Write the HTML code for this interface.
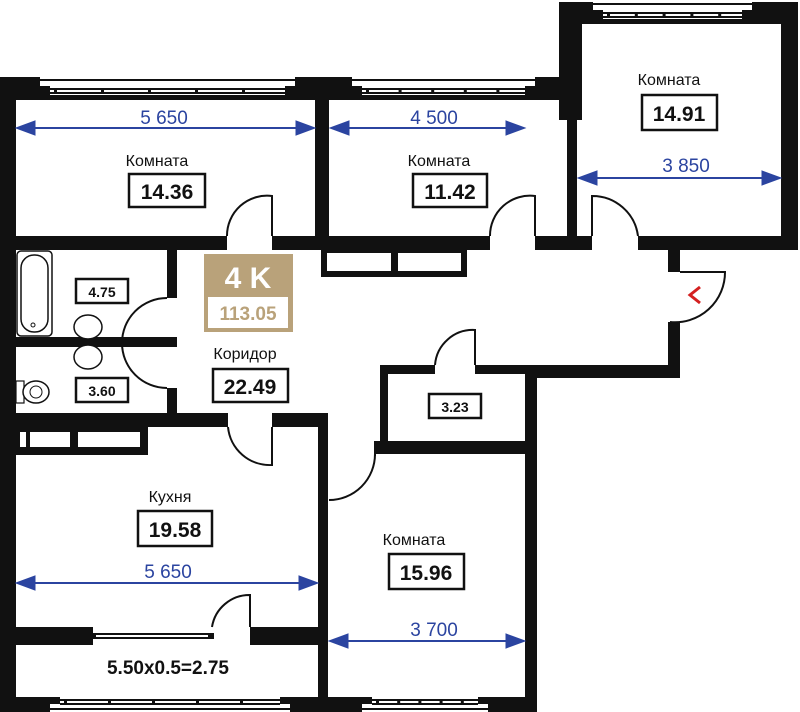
<!DOCTYPE html>
<html><head><meta charset="utf-8"><style>
html,body{margin:0;padding:0;background:#fff;width:800px;height:712px;overflow:hidden}
svg{display:block}
.lbl{font-family:"Liberation Sans",sans-serif;font-size:16px;fill:#111;text-anchor:middle}
.num{font-family:"Liberation Sans",sans-serif;font-size:21px;font-weight:bold;fill:#111;text-anchor:middle}
.sm{font-family:"Liberation Sans",sans-serif;font-size:14px;font-weight:bold;fill:#111;text-anchor:middle}
.dim{font-family:"Liberation Sans",sans-serif;font-size:19px;fill:#2b44a0;text-anchor:middle}
.box{fill:#fff;stroke:#111;stroke-width:2.5}
.arc{fill:#fff;stroke:#111;stroke-width:2}
</style></head><body>
<svg id="s" width="800" height="712" viewBox="0 0 800 712" xmlns="http://www.w3.org/2000/svg">
<g fill="#111">
<rect x="0" y="77" width="16" height="635"/>
<rect x="0" y="77" width="330" height="23"/>
<rect x="315" y="77" width="265" height="23"/>
<rect x="315" y="77" width="14" height="173"/>
<rect x="559" y="2" width="23" height="118"/>
<rect x="567" y="100" width="10" height="150"/>
<rect x="559" y="2" width="239" height="22"/>
<rect x="781" y="2" width="17" height="248"/>
<rect x="15" y="236" width="212" height="14"/>
<rect x="272" y="236" width="218" height="14"/>
<rect x="535" y="236" width="57" height="14"/>
<rect x="638" y="236" width="160" height="14"/>
<rect x="668" y="250" width="12" height="22"/>
<rect x="668" y="322" width="12" height="56"/>
<rect x="525" y="365" width="155" height="13"/>
<rect x="380" y="365" width="55" height="9"/>
<rect x="475" y="365" width="55" height="9"/>
<rect x="380" y="365" width="8" height="80"/>
<rect x="374" y="441" width="163" height="13"/>
<rect x="525" y="365" width="12" height="347"/>
<rect x="167" y="250" width="10" height="48"/>
<rect x="167" y="388" width="10" height="30"/>
<rect x="15" y="413" width="213" height="14"/>
<rect x="272" y="413" width="56" height="14"/>
<rect x="318" y="413" width="10" height="299"/>
<rect x="15" y="427" width="133" height="28"/>
<rect x="15" y="627" width="78" height="18"/>
<rect x="250" y="627" width="68" height="18"/>
<rect x="88" y="633" width="126" height="6"/>
<rect x="0" y="697" width="330" height="15"/>
<rect x="318" y="697" width="219" height="15"/>
</g>
<g fill="#fff">
<rect x="20" y="432" width="6" height="15"/>
<rect x="30" y="432" width="40" height="15"/>
<rect x="78" y="432" width="62" height="15"/>
<rect x="96" y="635" width="112" height="2"/>
</g>
<rect x="324" y="250" width="140" height="24" fill="#fff" stroke="#111" stroke-width="6"/>
<rect x="391" y="250" width="7" height="25" fill="#111"/>
<g id="wins"></g>
<path class="arc" d="M272 236 L272 196 A40 40 0 0 0 227 236" />
<path class="arc" d="M535 236 L535 196 A40 40 0 0 0 490 236" />
<path class="arc" d="M592 236 L592 196 A46 46 0 0 1 638 236" />
<path class="arc" d="M680 272 L725 272 A50 50 0 0 1 670 322" fill="none"/>
<path class="arc" d="M475 365 L475 330 A38 38 0 0 0 435 365" />
<path class="arc" d="M167 298 A45 45 0 0 0 167 388" />
<rect x="15" y="337" width="162" height="10" fill="#111"/>
<path class="arc" d="M272 427 L272 465 A42 42 0 0 1 228 427" />
<path class="arc" d="M375 454 A46 46 0 0 1 329 500" fill="none"/>
<line x1="375" y1="441" x2="375" y2="456" stroke="#111" stroke-width="2"/>
<path class="arc" d="M250 627 L250 595 A38 38 0 0 0 212 627" />
<path d="M700 287 L690 295 L700 303" fill="none" stroke="#d42020" stroke-width="3"/>
<rect x="17" y="251" width="35" height="85" rx="4" fill="#fff" stroke="#111" stroke-width="1.5"/>
<rect x="21" y="255" width="27" height="77" rx="13" fill="#fff" stroke="#111" stroke-width="1.5"/>
<circle cx="33" cy="325" r="2" fill="none" stroke="#111"/>
<ellipse cx="88" cy="327" rx="14" ry="12" fill="#fff" stroke="#111" stroke-width="1.5"/>
<ellipse cx="88" cy="357" rx="14" ry="12" fill="#fff" stroke="#111" stroke-width="1.5"/>
<rect x="16" y="381" width="8" height="22" fill="#fff" stroke="#111" stroke-width="1.2"/>
<ellipse cx="36" cy="392" rx="13" ry="11" fill="#fff" stroke="#111" stroke-width="1.5"/>
<circle cx="36" cy="392" r="6" fill="none" stroke="#111"/>
<g fill="#2b44a0" stroke="#2b44a0">
<line x1="20" y1="128" x2="310" y2="128" stroke-width="2"/>
<polygon points="16,128 35,121 35,135"/><polygon points="315,128 296,121 296,135"/>
<line x1="334" y1="128" x2="520" y2="128" stroke-width="2"/>
<polygon points="330,128 349,121 349,135"/><polygon points="525,128 506,121 506,135"/>
<line x1="582" y1="178" x2="776" y2="178" stroke-width="2"/>
<polygon points="578,178 597,171 597,185"/><polygon points="781,178 762,171 762,185"/>
<line x1="20" y1="583" x2="313" y2="583" stroke-width="2"/>
<polygon points="16,583 35,576 35,590"/><polygon points="318,583 299,576 299,590"/>
<line x1="333" y1="641" x2="520" y2="641" stroke-width="2"/>
<polygon points="329,641 348,634 348,648"/><polygon points="525,641 506,634 506,648"/>
</g>
<text class="dim" x="164" y="124" stroke="none">5 650</text>
<text class="dim" x="434" y="124" stroke="none">4 500</text>
<text class="dim" x="686" y="172" stroke="none">3 850</text>
<text class="dim" x="168" y="578" stroke="none">5 650</text>
<text class="dim" x="434" y="636" stroke="none">3 700</text>
<text class="lbl" x="157" y="166">Комната</text>
<rect class="box" x="129" y="174" width="76" height="33"/><text class="num" x="167" y="199">14.36</text>
<text class="lbl" x="439" y="166">Комната</text>
<rect class="box" x="413" y="174" width="74" height="33"/><text class="num" x="450" y="199">11.42</text>
<text class="lbl" x="669" y="85">Комната</text>
<rect class="box" x="642" y="95" width="75" height="35"/><text class="num" x="679" y="121">14.91</text>
<rect x="204" y="254" width="89" height="78" fill="#b9a27a"/>
<text x="248" y="288" font-family="Liberation Sans,sans-serif" font-size="30" font-weight="bold" fill="#fff" text-anchor="middle">4 K</text>
<rect x="208" y="297" width="80" height="31" fill="#fff"/>
<text x="248" y="320" font-family="Liberation Sans,sans-serif" font-size="19" font-weight="bold" fill="#b9a27a" text-anchor="middle">113.05</text>
<rect class="box" x="76" y="279" width="52" height="24"/><text class="sm" x="102" y="297">4.75</text>
<rect class="box" x="76" y="378" width="52" height="24"/><text class="sm" x="102" y="396">3.60</text>
<text class="lbl" x="245" y="359">Коридор</text>
<rect class="box" x="213" y="369" width="75" height="33"/><text class="num" x="250" y="394">22.49</text>
<rect class="box" x="429" y="394" width="52" height="24"/><text class="sm" x="455" y="412">3.23</text>
<text class="lbl" x="170" y="502">Кухня</text>
<rect class="box" x="138" y="511" width="74" height="35"/><text class="num" x="175" y="537">19.58</text>
<text class="lbl" x="414" y="545">Комната</text>
<rect class="box" x="389" y="554" width="75" height="35"/><text class="num" x="426" y="580">15.96</text>
<text x="168" y="674" font-family="Liberation Sans,sans-serif" font-size="19" font-weight="bold" fill="#111" text-anchor="middle">5.50x0.5=2.75</text>
</svg>
<script>
var g=document.getElementById('wins'),ns='http://www.w3.org/2000/svg';
function r(x,y,w,h,f){var e=document.createElementNS(ns,'rect');e.setAttribute('x',x);e.setAttribute('y',y);e.setAttribute('width',w);e.setAttribute('height',h);e.setAttribute('fill',f);g.appendChild(e);}
function win(x1,x2,y,bottom){
 if(!bottom){r(x1-10,y,x2-x1+20,9,'#fff');r(x1-12,y+2,x2-x1+24,2,'#111');r(x1,y+9,x2-x1,9,'#fff');r(x1,y+11,x2-x1,2,'#111');r(x1,y+15,x2-x1,2,'#111');
 for(var x=x1+4;x<x2;x+=(x2-x1)/5){r(x,y+11,3,6,'#111');}}
 else{r(x1-10,y+7,x2-x1+20,8,'#fff');r(x1-12,y+11,x2-x1+24,2,'#111');r(x1,y,x2-x1,8,'#fff');r(x1,y+2,x2-x1,2,'#111');r(x1,y+6,x2-x1,2,'#111');
 for(var x=x1+4;x<x2;x+=(x2-x1)/5){r(x,y+2,3,6,'#111');}}
}
win(50,285,77);win(362,525,77);win(603,742,1);
win(60,280,697,1);win(372,478,697,1);
</script>
</body></html>
